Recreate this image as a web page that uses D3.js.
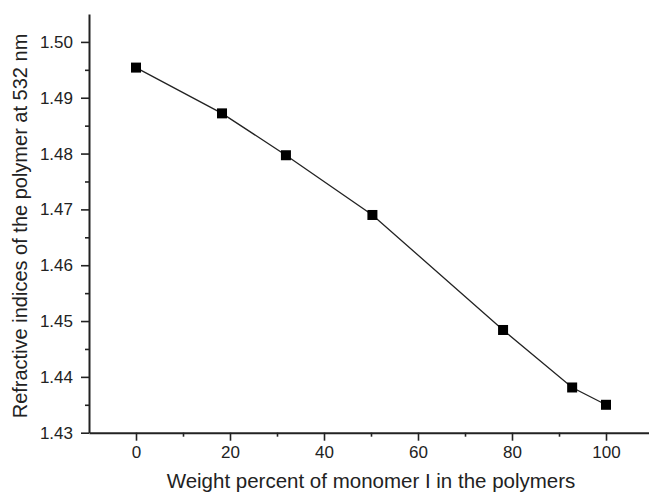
<!DOCTYPE html>
<html>
<head>
<meta charset="utf-8">
<script src="https://cdn.jsdelivr.net/npm/d3@7"></script>
<style>
  body { margin: 0; background: #fff; }
  svg { display: block; font-family: "Liberation Sans", Arial, sans-serif; }
  .axis path, .axis line { stroke: #222; }
  .axis path { stroke-width: 2px; }
  .axis line { stroke-width: 1.6px; }
</style>
</head>
<body>
<svg width="649" height="493"></svg>
<script>
// weight percent of monomer I
var weightPct = [0, 18.3, 31.9, 50.3, 78.1, 92.8, 100];
// refractive index at 532 nm
var refIndex = [1.4954, 1.4872, 1.4797, 1.4690, 1.4484, 1.4381, 1.4350];
var xTicks = [0, 20, 40, 60, 80, 100];
var xMinor = [10, 30, 50, 70, 90];
var yTicks = [1.43, 1.44, 1.45, 1.46, 1.47, 1.48, 1.49, 1.50];
var yMinor = [1.435, 1.445, 1.455, 1.465, 1.475, 1.485, 1.495];

var svg = d3.select("svg");

var x = d3.scaleLinear().domain([-10, 110]).range([89, 653]);
var y = d3.scaleLinear().domain([1.43, 1.505]).range([432.7, 14]);

var points = weightPct.map(function (d, i) {
  return { x: d, y: refIndex[i] };
});

// minor ticks first
svg.append("g")
  .attr("class", "axis")
  .attr("transform", "translate(0," + y(1.43) + ")")
  .call(d3.axisBottom(x).tickValues(xMinor).tickSize(4).tickSizeOuter(0).tickFormat(""))
  .select(".domain").remove();

svg.append("g")
  .attr("class", "axis")
  .attr("transform", "translate(" + x(-10) + ",0)")
  .call(d3.axisLeft(y).tickValues(yMinor).tickSize(4).tickSizeOuter(0).tickFormat(""))
  .select(".domain").remove();

var xAxis = svg.append("g")
  .attr("class", "axis")
  .attr("transform", "translate(0," + y(1.43) + ")")
  .call(d3.axisBottom(x).tickValues(xTicks).tickSize(8).tickSizeOuter(0).tickPadding(5));

var yAxis = svg.append("g")
  .attr("class", "axis")
  .attr("transform", "translate(" + x(-10) + ",0)")
  .call(d3.axisLeft(y).tickValues(yTicks).tickSize(8).tickSizeOuter(0).tickPadding(8)
    .tickFormat(d3.format(".2f")));

xAxis.attr("font-size", null).attr("font-family", null);
yAxis.attr("font-size", null).attr("font-family", null);
svg.selectAll(".axis text")
  .style("font-size", "17px")
  .attr("fill", "#222");

// line + markers
var line = d3.line()
  .x(function (d) { return x(d.x); })
  .y(function (d) { return y(d.y); });

svg.append("path")
  .datum(points)
  .attr("fill", "none")
  .attr("stroke", "#222")
  .attr("stroke-width", 1.3)
  .attr("d", line);

svg.selectAll(".pt")
  .data(points)
  .enter()
  .append("rect")
  .attr("class", "pt")
  .attr("x", function (d) { return x(d.x) - 5; })
  .attr("y", function (d) { return y(d.y) - 5; })
  .attr("width", 10)
  .attr("height", 10)
  .attr("fill", "#000");

// axis titles
svg.append("text")
  .attr("x", x(50))
  .attr("y", 488)
  .attr("text-anchor", "middle")
  .attr("fill", "#222")
  .style("font-size", "20.5px")
  .text("Weight percent of monomer I in the polymers");

svg.append("text")
  .attr("transform", "translate(27,226) rotate(-90)")
  .attr("text-anchor", "middle")
  .attr("fill", "#222")
  .style("font-size", "20px")
  .text("Refractive indices of the polymer at 532 nm");
</script>
</body>
</html>
